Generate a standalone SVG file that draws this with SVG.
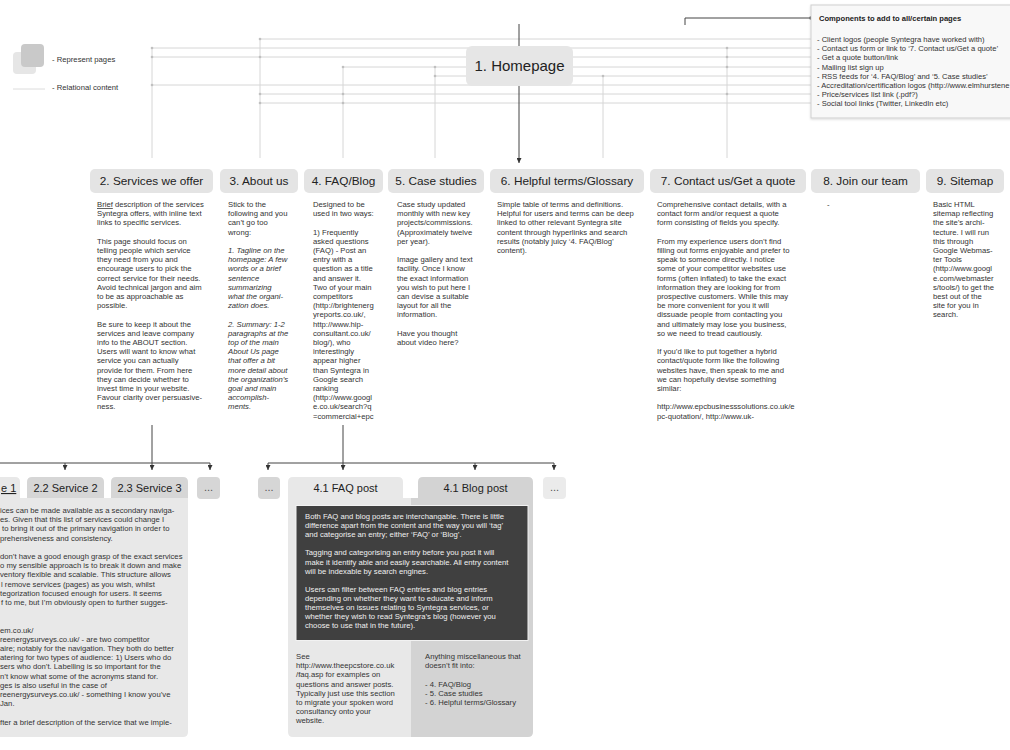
<svg xmlns="http://www.w3.org/2000/svg" width="1010" height="750" viewBox="0 0 1010 750">
<style>
text{font-family:"Liberation Sans",Arial,sans-serif}
.b{font-size:7.7px;fill:#333}
.w{font-size:7.7px;fill:#f0f0f0}
.h{font-size:11.8px;fill:#222;text-anchor:middle}
.t{font-size:11px;fill:#222;text-anchor:middle}
.lg{font-size:7.7px;fill:#333}
.it{font-style:italic}
.rel{stroke:#d6d6d6;stroke-width:1;fill:none}
.dot{fill:#c0c0c0}
.dk{stroke:#444;stroke-width:1;fill:none}
.hb{fill:#e4e4e4}
</style>
<defs>
<marker id="ar" viewBox="0 0 6 6" refX="6" refY="3" markerWidth="5" markerHeight="5" markerUnits="userSpaceOnUse" orient="auto"><path d="M0,0 L6,3 L0,6 Z" fill="#333"/></marker>
<filter id="sh" x="-5%" y="-10%" width="110%" height="130%"><feDropShadow dx="0" dy="1" stdDeviation="0.8" flood-color="#000" flood-opacity="0.15"/></filter>
</defs>

<g id="legend">
<rect x="13" y="52" width="23" height="22" rx="4" fill="#e6e6e6"/>
<rect x="21" y="44" width="23" height="23" rx="4" fill="#c9c9c9"/>
<text class="lg" x="52" y="62">- Represent pages</text>
<line x1="13" y1="89" x2="45" y2="89" stroke="#dcdcdc"/>
<text class="lg" x="52" y="90">- Relational content</text>
</g>

<g id="connectors">
<path class="rel" d="M260,39 H811 M152,48 H811 M152,57 H811 M343,67 H811 M435,76 H811 M152,85 H811 M260,94 H811 M260,103 H811"/>
<path class="rel" d="M152,48 V158 M260,39 V158 M343,67 V158 M435,67 V158 M603,76 V158 M727,48 V158"/>
<g class="dot">
<circle cx="152" cy="48" r="1.3"/><circle cx="152" cy="57" r="1.3"/><circle cx="152" cy="85" r="1.3"/>
<circle cx="260" cy="39" r="1.3"/><circle cx="260" cy="57" r="1.3"/><circle cx="260" cy="94" r="1.3"/><circle cx="260" cy="103" r="1.3"/>
<circle cx="343" cy="67" r="1.3"/><circle cx="343" cy="94" r="1.3"/><circle cx="343" cy="103" r="1.3"/>
<circle cx="435" cy="67" r="1.3"/><circle cx="435" cy="76" r="1.3"/>
<circle cx="603" cy="76" r="1.3"/>
<circle cx="727" cy="48" r="1.3"/><circle cx="727" cy="57" r="1.3"/><circle cx="727" cy="67" r="1.3"/><circle cx="727" cy="94" r="1.3"/>
</g>
<path class="dk" d="M519,24 V46"/>
<path class="dk" d="M685,25 V18 H809"/>
<circle cx="811" cy="18" r="1.8" fill="#333"/>
<path class="dk" d="M519,86 V163" marker-end="url(#ar)"/>
<path class="dk" d="M0,463 H210"/>
<path class="dk" d="M152,425 V470" marker-end="url(#ar)"/>
<path class="dk" d="M65,463 V470" marker-end="url(#ar)"/>
<path class="dk" d="M210,463 V470" marker-end="url(#ar)"/>
<path class="dk" d="M268,463 H554"/>
<path class="dk" d="M343,425 V470" marker-end="url(#ar)"/>
<path class="dk" d="M268,463 V470" marker-end="url(#ar)"/>
<path class="dk" d="M475,463 V470" marker-end="url(#ar)"/>
<path class="dk" d="M554,463 V470" marker-end="url(#ar)"/>
</g>

<g id="homepage">
<rect x="466" y="46" width="107" height="40" rx="6" fill="#e6e6e6"/>
<text x="519.5" y="71" style="font-size:15px;fill:#222;text-anchor:middle">1. Homepage</text>
</g>

<g id="components">
<rect x="811" y="5" width="205" height="113" fill="#f8f8f8" stroke="#cfcfcf" filter="url(#sh)"/>
<text x="819" y="21" style="font-size:7.6px;font-weight:bold;fill:#222">Components to add to all/certain pages</text>
<text style="font-size:7.6px;fill:#333">
<tspan x="817" y="41.5">- Client logos (people Syntegra have worked with)</tspan>
<tspan x="817" y="50.5">- Contact us form or link to ‘7. Contact us/Get a quote’</tspan>
<tspan x="817" y="59.5">- Get a quote button/link</tspan>
<tspan x="817" y="69.5">- Mailing list sign up</tspan>
<tspan x="817" y="78.5">- RSS feeds for ‘4. FAQ/Blog’ and ‘5. Case studies’</tspan>
<tspan x="817" y="87.5">- Accreditation/certification logos (http://www.elmhurstene</tspan>
<tspan x="817" y="96.5">- Price/services list link (.pdf?)</tspan>
<tspan x="817" y="105.5">- Social tool links (Twitter, LinkedIn etc)</tspan>
</text>
</g>

<g id="services">
<rect class="hb" x="90" y="169" width="123" height="24" rx="5"/>
<text class="h" x="151.5" y="185">2. Services we offer</text>
<text class="b">
<tspan x="97" y="207" text-decoration="underline">Brief</tspan><tspan> description of the services</tspan>
<tspan x="97" dy="9.2">Syntegra offers, with inline text</tspan>
<tspan x="97" dy="9.2">links to specific services.</tspan>
<tspan x="97" dy="18.4">This page should focus on</tspan>
<tspan x="97" dy="9.2">telling people which service</tspan>
<tspan x="97" dy="9.2">they need from you and</tspan>
<tspan x="97" dy="9.2">encourage users to pick the</tspan>
<tspan x="97" dy="9.2">correct service for their needs.</tspan>
<tspan x="97" dy="9.2">Avoid technical jargon and aim</tspan>
<tspan x="97" dy="9.2">to be as approachable as</tspan>
<tspan x="97" dy="9.2">possible.</tspan>
<tspan x="97" dy="18.4">Be sure to keep it about the</tspan>
<tspan x="97" dy="9.2">services and leave company</tspan>
<tspan x="97" dy="9.2">info to the ABOUT section.</tspan>
<tspan x="97" dy="9.2">Users will want to know what</tspan>
<tspan x="97" dy="9.2">service you can actually</tspan>
<tspan x="97" dy="9.2">provide for them. From here</tspan>
<tspan x="97" dy="9.2">they can decide whether to</tspan>
<tspan x="97" dy="9.2">invest time in your website.</tspan>
<tspan x="97" dy="9.2">Favour clarity over persuasive-</tspan>
<tspan x="97" dy="9.2">ness.</tspan>
</text>
</g>

<g id="about">
<rect class="hb" x="220" y="169" width="78" height="24" rx="5"/>
<text class="h" x="259" y="185">3. About us</text>
<text class="b">
<tspan x="228" y="207">Stick to the</tspan>
<tspan x="228" dy="9.2">following and you</tspan>
<tspan x="228" dy="9.2">can’t go too</tspan>
<tspan x="228" dy="9.2">wrong:</tspan>
<tspan x="228" dy="18.4" class="it">1. Tagline on the</tspan>
<tspan x="228" dy="9.2" class="it">homepage: A few</tspan>
<tspan x="228" dy="9.2" class="it">words or a brief</tspan>
<tspan x="228" dy="9.2" class="it">sentence</tspan>
<tspan x="228" dy="9.2" class="it">summarizing</tspan>
<tspan x="228" dy="9.2" class="it">what the organi-</tspan>
<tspan x="228" dy="9.2" class="it">zation does.</tspan>
<tspan x="228" dy="18.4" class="it">2. Summary: 1-2</tspan>
<tspan x="228" dy="9.2" class="it">paragraphs at the</tspan>
<tspan x="228" dy="9.2" class="it">top of the main</tspan>
<tspan x="228" dy="9.2" class="it">About Us page</tspan>
<tspan x="228" dy="9.2" class="it">that offer a bit</tspan>
<tspan x="228" dy="9.2" class="it">more detail about</tspan>
<tspan x="228" dy="9.2" class="it">the organization’s</tspan>
<tspan x="228" dy="9.2" class="it">goal and main</tspan>
<tspan x="228" dy="9.2" class="it">accomplish-</tspan>
<tspan x="228" dy="9.2" class="it">ments.</tspan>
</text>
</g>

<g id="faqblog">
<rect class="hb" x="304" y="169" width="79" height="24" rx="5"/>
<text class="h" x="343.5" y="185">4. FAQ/Blog</text>
<text class="b">
<tspan x="313" y="207">Designed to be</tspan>
<tspan x="313" dy="9.2">used in two ways:</tspan>
<tspan x="313" dy="18.4">1) Frequently</tspan>
<tspan x="313" dy="9.2">asked questions</tspan>
<tspan x="313" dy="9.2">(FAQ) - Post an</tspan>
<tspan x="313" dy="9.2">entry with a</tspan>
<tspan x="313" dy="9.2">question as a title</tspan>
<tspan x="313" dy="9.2">and answer it.</tspan>
<tspan x="313" dy="9.2">Two of your main</tspan>
<tspan x="313" dy="9.2">competitors</tspan>
<tspan x="313" dy="9.2">(http://brightenerg</tspan>
<tspan x="313" dy="9.2">yreports.co.uk/,</tspan>
<tspan x="313" dy="9.2">http://www.hip-</tspan>
<tspan x="313" dy="9.2">consultant.co.uk/</tspan>
<tspan x="313" dy="9.2">blog/), who</tspan>
<tspan x="313" dy="9.2">interestingly</tspan>
<tspan x="313" dy="9.2">appear higher</tspan>
<tspan x="313" dy="9.2">than Syntegra in</tspan>
<tspan x="313" dy="9.2">Google search</tspan>
<tspan x="313" dy="9.2">ranking</tspan>
<tspan x="313" dy="9.2">(http://www.googl</tspan>
<tspan x="313" dy="9.2">e.co.uk/search?q</tspan>
<tspan x="313" dy="9.2">=commercial+epc</tspan>
</text>
</g>

<g id="casestudies">
<rect class="hb" x="388" y="169" width="96" height="24" rx="5"/>
<text class="h" x="436" y="185">5. Case studies</text>
<text class="b">
<tspan x="397" y="207">Case study updated</tspan>
<tspan x="397" dy="9.2">monthly with new key</tspan>
<tspan x="397" dy="9.2">projects/commissions.</tspan>
<tspan x="397" dy="9.2">(Approximately twelve</tspan>
<tspan x="397" dy="9.2">per year).</tspan>
<tspan x="397" dy="18.4">Image gallery and text</tspan>
<tspan x="397" dy="9.2">facility. Once I know</tspan>
<tspan x="397" dy="9.2">the exact information</tspan>
<tspan x="397" dy="9.2">you wish to put here I</tspan>
<tspan x="397" dy="9.2">can devise a suitable</tspan>
<tspan x="397" dy="9.2">layout for all the</tspan>
<tspan x="397" dy="9.2">information.</tspan>
<tspan x="397" dy="18.4">Have you thought</tspan>
<tspan x="397" dy="9.2">about video here?</tspan>
</text>
</g>

<g id="glossary">
<rect class="hb" x="490" y="169" width="154" height="24" rx="5"/>
<text class="h" x="567" y="185">6. Helpful terms/Glossary</text>
<text class="b">
<tspan x="497" y="207">Simple table of terms and definitions.</tspan>
<tspan x="497" dy="9.2">Helpful for users and terms can be deep</tspan>
<tspan x="497" dy="9.2">linked to other relevant Syntegra site</tspan>
<tspan x="497" dy="9.2">content through hyperlinks and search</tspan>
<tspan x="497" dy="9.2">results (notably juicy ‘4. FAQ/Blog’</tspan>
<tspan x="497" dy="9.2">content).</tspan>
</text>
</g>

<g id="contact">
<rect class="hb" x="650" y="169" width="156" height="24" rx="5"/>
<text class="h" x="728" y="185">7. Contact us/Get a quote</text>
<text class="b">
<tspan x="657" y="207">Comprehensive contact details, with a</tspan>
<tspan x="657" dy="9.2">contact form and/or request a quote</tspan>
<tspan x="657" dy="9.2">form consisting of fields you specify.</tspan>
<tspan x="657" dy="18.4">From my experience users don’t find</tspan>
<tspan x="657" dy="9.2">filling out forms enjoyable and prefer to</tspan>
<tspan x="657" dy="9.2">speak to someone directly. I notice</tspan>
<tspan x="657" dy="9.2">some of your competitor websites use</tspan>
<tspan x="657" dy="9.2">forms (often inflated) to take the exact</tspan>
<tspan x="657" dy="9.2">information they are looking for from</tspan>
<tspan x="657" dy="9.2">prospective customers. While this may</tspan>
<tspan x="657" dy="9.2">be more convenient for you it will</tspan>
<tspan x="657" dy="9.2">dissuade people from contacting you</tspan>
<tspan x="657" dy="9.2">and ultimately may lose you business,</tspan>
<tspan x="657" dy="9.2">so we need to tread cautiously.</tspan>
<tspan x="657" dy="18.4">If you’d like to put together a hybrid</tspan>
<tspan x="657" dy="9.2">contact/quote form like the following</tspan>
<tspan x="657" dy="9.2">websites have, then speak to me and</tspan>
<tspan x="657" dy="9.2">we can hopefully devise something</tspan>
<tspan x="657" dy="9.2">similar:</tspan>
<tspan x="657" dy="18.4">http://www.epcbusinesssolutions.co.uk/e</tspan>
<tspan x="657" dy="9.2">pc-quotation/, http://www.uk-</tspan>
</text>
</g>

<g id="join">
<rect class="hb" x="811" y="169" width="109" height="24" rx="5"/>
<text class="h" x="865.5" y="185">8. Join our team</text>
<text class="b" x="827" y="207">-</text>
</g>

<g id="sitemap">
<rect class="hb" x="926" y="169" width="78" height="24" rx="5"/>
<text class="h" x="965" y="185">9. Sitemap</text>
<text class="b">
<tspan x="933" y="207">Basic HTML</tspan>
<tspan x="933" dy="9.2">sitemap reflecting</tspan>
<tspan x="933" dy="9.2">the site’s archi-</tspan>
<tspan x="933" dy="9.2">tecture. I will run</tspan>
<tspan x="933" dy="9.2">this through</tspan>
<tspan x="933" dy="9.2">Google Webmas-</tspan>
<tspan x="933" dy="9.2">ter Tools</tspan>
<tspan x="933" dy="9.2">(http://www.googl</tspan>
<tspan x="933" dy="9.2">e.com/webmaster</tspan>
<tspan x="933" dy="9.2">s/tools/) to get the</tspan>
<tspan x="933" dy="9.2">best out of the</tspan>
<tspan x="933" dy="9.2">site for you in</tspan>
<tspan x="933" dy="9.2">search.</tspan>
</text>
</g>

<g id="service1">
<path d="M-10,477 H15 Q20,477 20,482 V498 H188 V732 Q188,737 183,737 H-10 Z" fill="#e8e8e8"/>
<text class="t" x="1" y="492" style="text-anchor:start" text-decoration="underline">e 1</text>
<text class="b">
<tspan x="0" y="513">ices can be made available as a secondary naviga-</tspan>
<tspan x="0" dy="9.2">es. Given that this list of services could change I</tspan>
<tspan x="2" dy="9.2">to bring it out of the primary navigation in order to</tspan>
<tspan x="0" dy="9.2">prehensiveness and consistency.</tspan>
<tspan x="0" dy="18.4">don’t have a good enough grasp of the exact services</tspan>
<tspan x="0" dy="9.2">o my sensible approach is to break it down and make</tspan>
<tspan x="0" dy="9.2">ventory flexible and scalable. This structure allows</tspan>
<tspan x="1" dy="9.2">l remove services (pages) as you wish, whilst</tspan>
<tspan x="0" dy="9.2">tegorization focused enough for users. It seems</tspan>
<tspan x="1" dy="9.2">f to me, but I’m obviously open to further sugges-</tspan>
<tspan x="0" dy="27.6">em.co.uk/</tspan>
<tspan x="0" dy="9.2">reenergysurveys.co.uk/ - are two competitor</tspan>
<tspan x="0" dy="9.2">aire; notably for the navigation. They both do better</tspan>
<tspan x="0" dy="9.2">atering for two types of audience: 1) Users who do</tspan>
<tspan x="0" dy="9.2">sers who don’t. Labelling is so important for the</tspan>
<tspan x="0" dy="9.2">n’t know what some of the acronyms stand for.</tspan>
<tspan x="0" dy="9.2">ges is also useful in the case of</tspan>
<tspan x="0" dy="9.2">reenergysurveys.co.uk/ - something I know you’ve</tspan>
<tspan x="0" dy="9.2">Jan.</tspan>
<tspan x="0" dy="18.4">fter a brief description of the service that we imple-</tspan>
</text>
</g>

<g id="service2">
<path d="M32,477 H99 Q104,477 104,482 V498 H27 V482 Q27,477 32,477 Z" fill="#d6d6d6"/>
<text class="t" x="65.5" y="492">2.2 Service 2</text>
</g>

<g id="service3">
<path d="M116,477 H183 Q188,477 188,482 V498 H111 V482 Q111,477 116,477 Z" fill="#d6d6d6"/>
<text class="t" x="149.5" y="492">2.3 Service 3</text>
</g>

<g id="more1">
<rect x="197" y="477" width="23" height="22" rx="4" fill="#d6d6d6"/>
<text class="t" x="208.5" y="491" style="fill:#555">...</text>
</g>

<g id="more2">
<rect x="258" y="477" width="22" height="22" rx="4" fill="#d6d6d6"/>
<text class="t" x="269" y="491" style="fill:#555">...</text>
</g>

<g id="faqpost">
<path d="M293,477 H398 Q403,477 403,482 V498 H411 V737 H293 Q288,737 288,732 V482 Q288,477 293,477 Z" fill="#e8e8e8"/>
<text class="t" x="345.5" y="492">4.1 FAQ post</text>
<text class="b">
<tspan x="296" y="659">See</tspan>
<tspan x="296" dy="9.2">http://www.theepcstore.co.uk</tspan>
<tspan x="296" dy="9.2">/faq.asp for examples on</tspan>
<tspan x="296" dy="9.2">questions and answer posts.</tspan>
<tspan x="296" dy="9.2">Typically just use this section</tspan>
<tspan x="296" dy="9.2">to migrate your spoken word</tspan>
<tspan x="296" dy="9.2">consultancy onto your</tspan>
<tspan x="296" dy="9.2">website.</tspan>
</text>
</g>

<g id="blogpost">
<path d="M423,477 H528 Q533,477 533,482 V732 Q533,737 528,737 H411 V498 H418 V482 Q418,477 423,477 Z" fill="#d3d3d3"/>
<text class="t" x="475.5" y="492">4.1 Blog post</text>
<text class="b">
<tspan x="425" y="659">Anything miscellaneous that</tspan>
<tspan x="425" dy="9.2">doesn’t fit into:</tspan>
<tspan x="425" dy="18.4">- 4. FAQ/Blog</tspan>
<tspan x="425" dy="9.2">- 5. Case studies</tspan>
<tspan x="425" dy="9.2">- 6. Helpful terms/Glossary</tspan>
</text>
</g>

<g id="note">
<rect x="296" y="505.5" width="232" height="135" fill="#404040" stroke="#f2f2f2" stroke-width="1"/>
<text class="w">
<tspan x="305" y="519">Both FAQ and blog posts are interchangable. There is little</tspan>
<tspan x="305" dy="9.1">difference apart from the content and the way you will ‘tag’</tspan>
<tspan x="305" dy="9.1">and categorise an entry; either ‘FAQ’ or ‘Blog’.</tspan>
<tspan x="305" dy="18.2">Tagging and categorising an entry before you post it will</tspan>
<tspan x="305" dy="9.1">make it identify able and easily searchable. All entry content</tspan>
<tspan x="305" dy="9.1">will be indexable by search engines.</tspan>
<tspan x="305" dy="18.2">Users can filter between FAQ entries and blog entries</tspan>
<tspan x="305" dy="9.1">depending on whether they want to educate and inform</tspan>
<tspan x="305" dy="9.1">themselves on issues relating to Syntegra services, or</tspan>
<tspan x="305" dy="9.1">whether they wish to read Syntegra’s blog (however you</tspan>
<tspan x="305" dy="9.1">choose to use that in the future).</tspan>
</text>
</g>

<g id="more3">
<rect x="543" y="477" width="23" height="22" rx="4" fill="#ebebeb"/>
<text class="t" x="554.5" y="491" style="fill:#555">...</text>
</g>
</svg>
